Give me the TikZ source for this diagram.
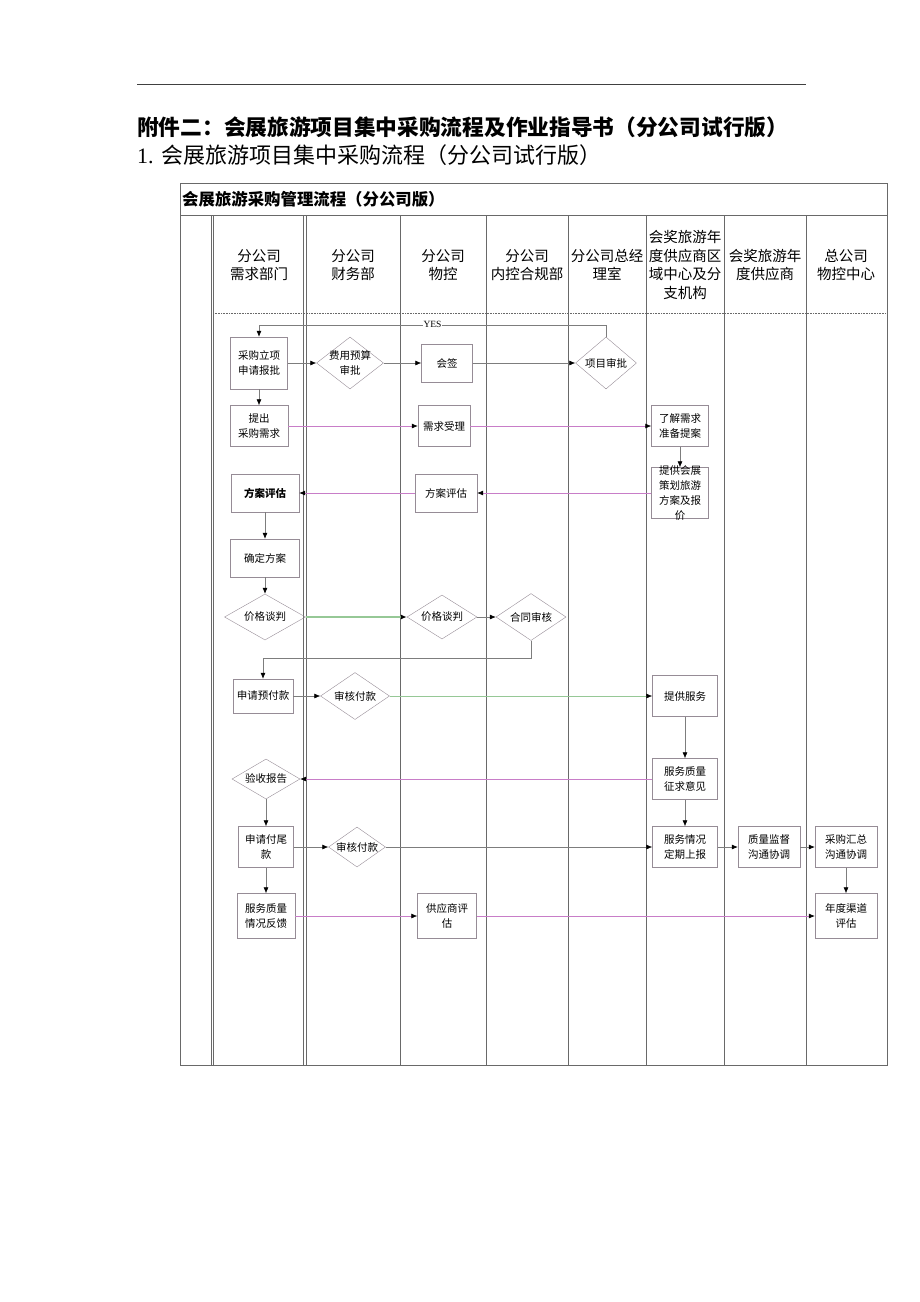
\documentclass[tikz,border=0pt]{standalone}
\usepackage{fontspec}
\setmainfont{Liberation Serif}
\newfontfamily\cjk{Noto Sans CJK SC}
\usetikzlibrary{shapes.geometric,arrows.meta}
\definecolor{lanegray}{RGB}{105,105,105}
\definecolor{boxgray}{RGB}{150,140,150}
\definecolor{flowgray}{RGB}{125,125,125}
\definecolor{flowpink}{RGB}{200,125,200}
\definecolor{flowgreen}{RGB}{150,200,150}
\tikzset{
  box/.style={draw=boxgray,rectangle,inner sep=0pt,align=center,font=\cjk\fontsize{10.5}{15}\selectfont},
  dia/.style={draw=boxgray,diamond,inner sep=0pt},
  txt/.style={align=center,font=\cjk\fontsize{10.5}{15}\selectfont},
  head/.style={align=center,font=\cjk\fontsize{14.5}{18.5}\selectfont},
  lane/.style={draw=lanegray,line width=0.6pt},
  flow/.style={draw=flowgray,line width=0.6pt},
}
\begin{document}
\begin{tikzpicture}[x=1pt,y=-1pt,>={Latex[length=6pt,width=5pt,color=black]}]
\useasboundingbox (0,0) rectangle (920,1302);
%% page heading
\draw [black!75,line width=1pt] (137,84) -- (806,84);
\node (title) at (137,127) [anchor=west,inner sep=0pt,font=\cjk\bfseries\fontsize{21.7}{26}\selectfont] {附件二：会展旅游项目集中采购流程及作业指导书（分公司试行版）};
\node (subtitle) at (137,155) [anchor=west,inner sep=0pt,font=\fontsize{22}{26}\selectfont] {1. {\cjk 会展旅游项目集中采购流程（分公司试行版）}};
%% lanes
\draw [lane] (180,183) rectangle (887,1065);
\draw [lane] (180,215) -- (887,215);
\draw [lane,densely dotted] (213,313) -- (887,313);
\foreach \x in {211,213.5,303.5,306,400,486,568,646,724,806}
  \draw [lane] (\x,215) -- (\x,1065);
\node (tabletitle) at (182,199) [anchor=west,inner sep=0pt,font=\cjk\bfseries\fontsize{16.4}{20}\selectfont] {会展旅游采购管理流程（分公司版）};
\node (h1) at (259,265) [head] {分公司\\需求部门};
\node (h2) at (353,265) [head] {分公司\\财务部};
\node (h3) at (443,265) [head] {分公司\\物控};
\node (h4) at (527,265) [head] {分公司\\内控合规部};
\node (h5) at (607,265) [head] {分公司总经\\理室};
\node (h6) at (685,265) [head] {会奖旅游年\\度供应商区\\域中心及分\\支机构};
\node (h7) at (765,265) [head] {会奖旅游年\\度供应商};
\node (h8) at (846,265) [head] {总公司\\物控中心};
%% steps
\node (a1) at (259,363) [box,minimum width=57pt,minimum height=52pt] {采购立项\\申请报批};
\node (d1) at (350,363) [dia,minimum width=67pt,minimum height=52pt,label={[txt]center:费用预算\\审批}] {};
\node (b1) at (447,363) [box,minimum width=51pt,minimum height=38pt] {会签};
\node (d2) at (606,363) [dia,minimum width=61pt,minimum height=52pt,label={[txt]center:项目审批}] {};
\node (a2) at (259,426) [box,minimum width=58pt,minimum height=41pt] {提出\\采购需求};
\node (c2) at (444,426) [box,minimum width=52pt,minimum height=41pt] {需求受理};
\node (f1) at (680,426) [box,minimum width=57pt,minimum height=41pt] {了解需求\\准备提案};
\node (f2) at (680,493) [box,minimum width=57pt,minimum height=51pt,label={[txt]center:提供会展\\策划旅游\\方案及报\\价}] {};
\node (c3) at (446,493) [box,minimum width=62pt,minimum height=38pt] {方案评估};
\node (a3) at (265,493) [box,minimum width=68pt,minimum height=38pt,font=\cjk\bfseries\fontsize{10.5}{15}\selectfont] {方案评估};
\node (a4) at (265,558) [box,minimum width=69pt,minimum height=38pt] {确定方案};
\node (d3) at (265,617) [dia,minimum width=81pt,minimum height=46pt,label={[txt]center:价格谈判}] {};
\node (c4) at (442,617) [dia,minimum width=70pt,minimum height=44pt,label={[txt]center:价格谈判}] {};
\node (e4) at (531,617) [dia,minimum width=70pt,minimum height=47pt,label={[txt]center:合同审核}] {};
\node (a5) at (263,696) [box,minimum width=60pt,minimum height=34pt] {申请预付款};
\node (d4) at (355,696) [dia,minimum width=69pt,minimum height=47pt,label={[txt]center:审核付款}] {};
\node (g1) at (685,696) [box,minimum width=65pt,minimum height=41pt] {提供服务};
\node (g2) at (685,779) [box,minimum width=65pt,minimum height=41pt] {服务质量\\征求意见};
\node (d5) at (266,779) [dia,minimum width=68pt,minimum height=40pt,label={[txt]center:验收报告}] {};
\node (a6) at (266,847) [box,minimum width=55pt,minimum height=41pt] {申请付尾\\款};
\node (d6) at (357,847) [dia,minimum width=57pt,minimum height=40pt,label={[txt]center:审核付款}] {};
\node (g3) at (685,847) [box,minimum width=65pt,minimum height=41pt] {服务情况\\定期上报};
\node (k1) at (769,847) [box,minimum width=62pt,minimum height=41pt] {质量监督\\沟通协调};
\node (m1) at (846,847) [box,minimum width=62pt,minimum height=41pt] {采购汇总\\沟通协调};
\node (m2) at (846,916) [box,minimum width=62pt,minimum height=45pt] {年度渠道\\评估};
\node (a7) at (266,916) [box,minimum width=58pt,minimum height=45pt] {服务质量\\情况反馈};
\node (c7) at (447,916) [box,minimum width=59pt,minimum height=45pt] {供应商评\\估};
%% connectors
\draw [->,flow] (d2.north) -- ++(0,-12) -| node [pos=0.25,fill=white,inner sep=1pt,font=\fontsize{9.5}{11}\selectfont] {YES} (a1.north);
\draw [->,flow] (a1) -- (d1);
\draw [->,flow] (d1) -- (b1);
\draw [->,flow] (b1) -- (d2);
\draw [->,flow] (a1) -- (a2);
\draw [->,flow,draw=flowpink] (a2) -- (c2);
\draw [->,flow,draw=flowpink] (c2) -- (f1);
\draw [->,flow] (f1) -- (f2);
\draw [->,flow,draw=flowpink] (f2) -- (c3);
\draw [->,flow,draw=flowpink] (c3) -- (a3);
\draw [->,flow] (a3) -- (a4);
\draw [->,flow] (a4) -- (d3);
\draw [->,flow,draw=flowgreen,line width=1.6pt] (d3) -- (c4);
\draw [->,flow] (c4) -- (e4);
\draw [->,flow] (e4.south) -- ++(0,18) -| (a5.north);
\draw [->,flow] (a5) -- (d4);
\draw [->,flow,draw=flowgreen] (d4) -- (g1);
\draw [->,flow] (g1) -- (g2);
\draw [->,flow,draw=flowpink] (g2) -- (d5);
\draw [->,flow] (d5) -- (a6);
\draw [->,flow] (a6) -- (d6);
\draw [->,flow] (d6) -- (g3);
\draw [->,flow] (g2) -- (g3);
\draw [->,flow] (g3) -- (k1);
\draw [->,flow] (k1) -- (m1);
\draw [->,flow] (m1) -- (m2);
\draw [->,flow] (a6) -- (a7);
\draw [->,flow,draw=flowpink] (a7) -- (c7);
\draw [->,flow,draw=flowpink] (c7) -- (m2);
%
\end{tikzpicture}
\end{document}
